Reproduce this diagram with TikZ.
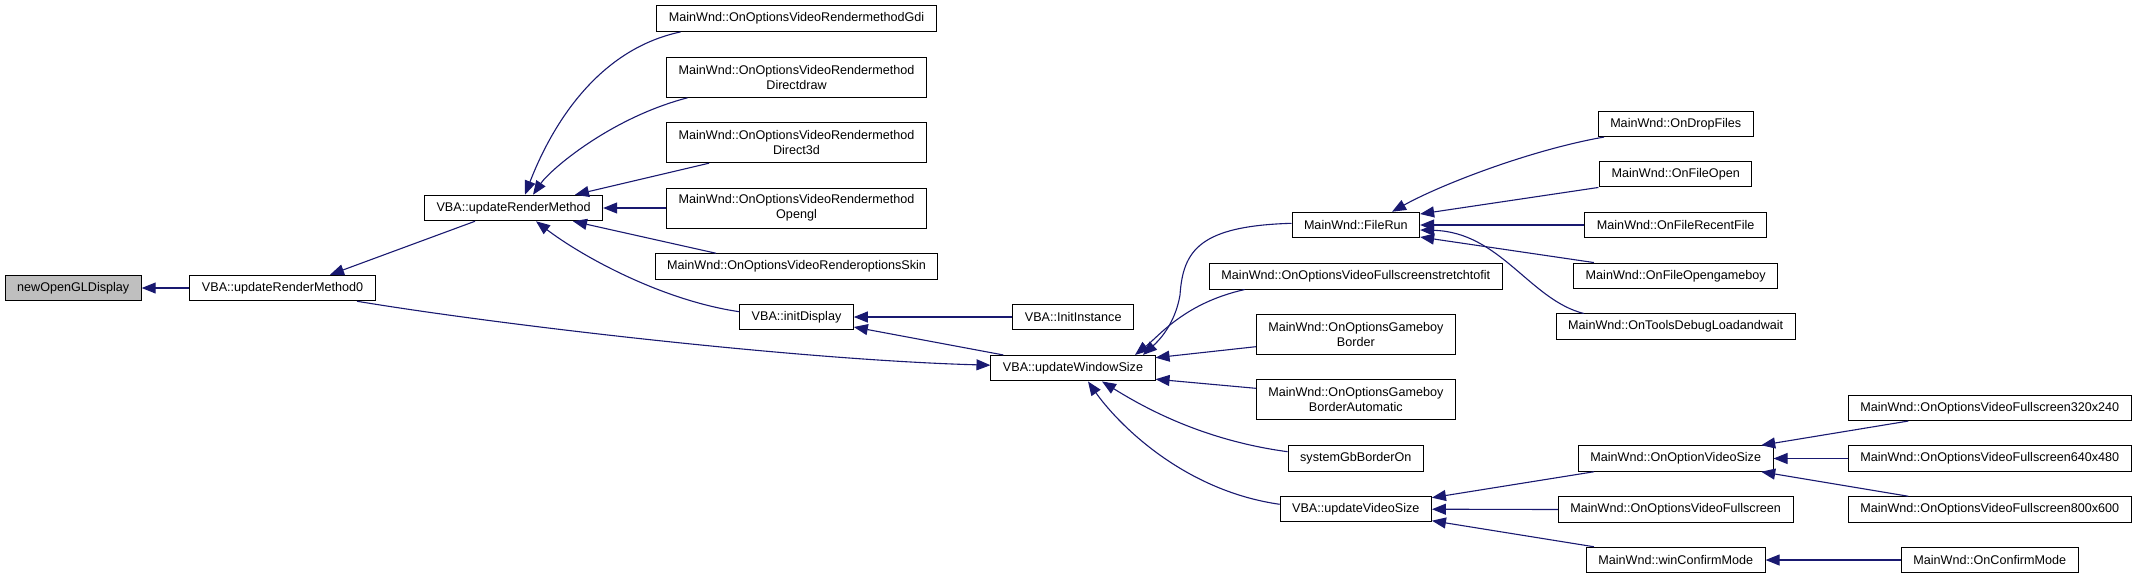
\documentclass[tikz,border=0pt]{standalone}
\usepackage{fontspec}
\setmainfont{Liberation Sans}
\usetikzlibrary{arrows.meta,calc}
\definecolor{cgedge}{HTML}{191970}
\definecolor{cgroot}{HTML}{BFBFBF}
\tikzset{
  every picture/.style={font=\fontsize{6.3}{7.5}\selectfont},
  fn/.style={draw=black,fill=white,line width=0.5pt,inner xsep=6pt,inner ysep=0pt,
    minimum height=12.75pt,align=center},
  fnwide/.style={fn,minimum height=20pt},
  fnroot/.style={fn,fill=cgroot},
  call/.style={draw=cgedge,line width=0.55pt,{Triangle[length=7pt,width=5.5pt]}-},
}

\begin{document}
\begin{tikzpicture}[x=0.5pt,y=-0.5pt]
  % caller graph of newOpenGLDisplay, one column per call depth
  \node[fnroot] (root) at (73.2,288) {newOpenGLDisplay};
  \node[fn] (rmz) at (282.5,288) {VBA::updateRenderMethod0};
  \node[fn] (urm) at (513.6,208) {VBA::updateRenderMethod};
  \node[fn] (gdi) at (796.5,18.7) {MainWnd::OnOptionsVideoRendermethodGdi};
  \node[fnwide] (ddraw) at (796.5,77.3) {MainWnd::OnOptionsVideoRendermethod\\Directdraw};
  \node[fnwide] (d3d) at (796.5,142.7) {MainWnd::OnOptionsVideoRendermethod\\Direct3d};
  \node[fnwide] (ogl) at (796.5,208) {MainWnd::OnOptionsVideoRendermethod\\Opengl};
  \node[fn] (skin) at (796.5,266.5) {MainWnd::OnOptionsVideoRenderoptionsSkin};
  \node[fn] (idisp) at (796.5,317) {VBA::initDisplay};
  \node[fn] (inst) at (1073.2,317) {VBA::InitInstance};
  \node[fn] (uws) at (1073,368.2) {VBA::updateWindowSize};
  \node[fn] (frun) at (1355.8,225) {MainWnd::FileRun};
  \node[fn] (stretch) at (1355.8,276.3) {MainWnd::OnOptionsVideoFullscreenstretchtofit};
  \node[fnwide] (gbb) at (1355.8,334.5) {MainWnd::OnOptionsGameboy\\Border};
  \node[fnwide] (gbba) at (1355.8,399.7) {MainWnd::OnOptionsGameboy\\BorderAutomatic};
  \node[fn] (sgb) at (1355.8,458.3) {systemGbBorderOn};
  \node[fn] (uvs) at (1355.8,509.2) {VBA::updateVideoSize};
  \node[fn] (drop) at (1675.7,123.8) {MainWnd::OnDropFiles};
  \node[fn] (fopen) at (1675.7,174.2) {MainWnd::OnFileOpen};
  \node[fn] (recent) at (1675.7,225) {MainWnd::OnFileRecentFile};
  \node[fn] (fgb) at (1675.7,275.8) {MainWnd::OnFileOpengameboy};
  \node[fn] (dbg) at (1675.7,326.7) {MainWnd::OnToolsDebugLoadandwait};
  \node[fn] (ovs) at (1675.7,458.5) {MainWnd::OnOptionVideoSize};
  \node[fn] (ovf) at (1675.7,509.5) {MainWnd::OnOptionsVideoFullscreen};
  \node[fn] (wcm) at (1675.7,560) {MainWnd::winConfirmMode};
  \node[fn] (fs320) at (1989.7,407.8) {MainWnd::OnOptionsVideoFullscreen320x240};
  \node[fn] (fs640) at (1989.7,458.5) {MainWnd::OnOptionsVideoFullscreen640x480};
  \node[fn] (fs800) at (1989.7,509.5) {MainWnd::OnOptionsVideoFullscreen800x600};
  \node[fn] (ocm) at (1989.7,560) {MainWnd::OnConfirmMode};

  \draw[call] (root.east) -- (rmz.west);
  \draw[call] ($(rmz.north)+(47.5,0)$) -- ($(urm.south)+(-38.6,0)$);
  \draw[call] ($(uws.west)+(0,-3)$) .. controls (800,360) and (500,325) .. ($(rmz.south)+(74.5,0)$);
  \draw[call] ($(urm.north)+(11.4,0)$) .. controls (550,130) and (595,50) .. ($(gdi.south)+(-116,0)$);
  \draw[call] ($(urm.north)+(19.4,0)$) .. controls (550,170) and (610,118) .. ($(ddraw.south)+(-109,0)$);
  \draw[call] ($(urm.north)+(61.4,0)$) -- ($(d3d.south)+(-87.5,0)$);
  \draw[call] (urm.east) -- (ogl.west);
  \draw[call] ($(urm.south)+(59.4,0)$) -- ($(skin.north)+(-80.5,0)$);
  \draw[call] ($(urm.south)+(22.4,0)$) .. controls (580,255) and (660,300) .. ($(idisp.west)+(0,-5.3)$);
  \draw[call] (idisp.east) -- (inst.west);
  \draw[call] ($(idisp.east)+(0,10)$) -- ($(uws.north)+(-69.7,0)$);
  \draw[call] ($(uws.north)+(70,0)$) .. controls (1165,335) and (1176,318) .. (1180,295)
    .. controls (1183,250) and (1200,226) .. ($(frun.west)+(0,-1.7)$);
  \draw[call] ($(uws.north)+(62,0)$) .. controls (1160,335) and (1185,303) .. ($(stretch.south)+(-111.2,0)$);
  \draw[call] ($(uws.east)+(0,-10.5)$) -- ($(gbb.west)+(0,12.2)$);
  \draw[call] ($(uws.east)+(0,11)$) -- ($(gbba.west)+(0,-11.4)$);
  \draw[call] ($(uws.south)+(29,0)$) .. controls (1140,405) and (1200,440) .. ($(sgb.west)+(0,-6.6)$);
  \draw[call] ($(uws.south)+(15,0)$) .. controls (1115,420) and (1180,490) .. ($(uvs.west)+(0,-4.9)$);
  \draw[call] ($(frun.north)+(36.2,0)$) .. controls (1440,185) and (1530,150) .. ($(drop.south)+(-71.7,0)$);
  \draw[call] ($(frun.east)+(0,-11)$) -- ($(fopen.south)+(-77.3,0)$);
  \draw[call] (frun.east) -- (recent.west);
  \draw[call] ($(frun.east)+(0,12)$) -- ($(fgb.north)+(-81.8,0)$);
  \draw[call] ($(frun.east)+(0,5)$) .. controls (1500,232) and (1530,300) .. ($(dbg.north)+(-92,0)$);
  \draw[call] ($(uvs.east)+(0,-11.5)$) -- ($(ovs.south)+(-81.8,0)$);
  \draw[call] (uvs.east) -- (ovf.west);
  \draw[call] ($(uvs.east)+(0,11.5)$) -- ($(wcm.north)+(-81.8,0)$);
  \draw[call] ($(ovs.north)+(85.5,0)$) -- ($(fs320.south)+(-81.5,0)$);
  \draw[call] (ovs.east) -- (fs640.west);
  \draw[call] ($(ovs.south)+(85.5,0)$) -- ($(fs800.north)+(-81.5,0)$);
  \draw[call] (wcm.east) -- (ocm.west);
  \path[use as bounding box] (0,0) rectangle (2140,579);
\end{tikzpicture}
\end{document}
